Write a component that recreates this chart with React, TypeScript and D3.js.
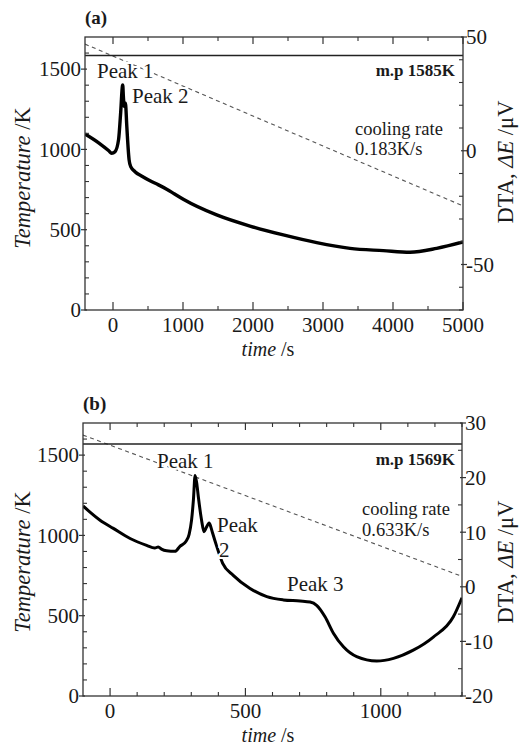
import React from "react";
import * as d3 from "d3";

// ---------- Data ----------
// Panel (a): DTA signal (right axis, µV) vs time (s)
const timeA = [-400, -200, -60, -19, 29, 80, 110, 135, 139, 148, 160, 172, 181, 195, 230, 253, 314, 420, 529, 650, 767, 880, 1004, 1481, 1957, 2433, 2910, 3386, 3861, 4243, 4624, 5000];
const dtaA = [7.4, 3.4, 0.0, -1.1, -0.4, 5.0, 17.0, 28.5, 28.9, 24.0, 19.5, 21.0, 20.1, 12.0, -4.0, -7.0, -9.2, -11.3, -13.2, -15.0, -16.9, -19.0, -21.3, -28.2, -33.1, -37.0, -40.4, -42.9, -43.9, -44.6, -42.9, -40.1];
// Panel (a): cooling line (left axis, K)
const coolTimeA = [-400, 5000];
const coolTempA = [1656, 648];
const meltA = 1585;

// Panel (b)
const timeB = [-100, -37, 12, 74, 135, 165, 178, 190, 209, 240, 258, 280, 292, 301, 308, 314, 320, 326, 338, 347, 355, 366, 372, 379, 394, 416, 455, 517, 579, 640, 702, 739, 763, 794, 825, 862, 911, 985, 1047, 1120, 1194, 1268, 1300];
const dtaB = [14.8, 12.2, 10.7, 8.85, 7.6, 7.1, 7.3, 6.9, 6.6, 6.5, 7.4, 8.3, 9.6, 12.2, 16.0, 20.4, 19.0, 16.5, 12.2, 10.1, 10.8, 11.7, 11.0, 9.8, 7.4, 4.3, 2.1, -0.3, -1.8, -2.4, -2.6, -2.8, -3.4, -5.5, -8.5, -11.0, -12.8, -13.6, -13.1, -11.6, -9.2, -5.5, -2.0];
const coolTimeB = [-100, 1300];
const coolTempB = [1625, 745];
const meltB = 1569;

// Axis domains / ticks
const tempDomain = [0, 1700];
const tempMajor = [0, 500, 1000, 1500];
const tempMinor = [100, 200, 300, 400, 600, 700, 800, 900, 1100, 1200, 1300, 1400, 1600];

const timeDomainA = [-400, 5000];
const timeMajorA = [0, 1000, 2000, 3000, 4000, 5000];
const timeMinorA = [500, 1500, 2500, 3500, 4500];
const dtaDomainA = [-70, 50];
const dtaMajorA = [-50, 0, 50];
const dtaMinorA = [-70, -60, -40, -30, -20, -10, 10, 20, 30, 40];

const timeDomainB = [-100, 1300];
const timeMajorB = [0, 500, 1000];
const timeMinorB = [100, 200, 300, 400, 600, 700, 800, 900, 1100, 1200, 1300];
const dtaDomainB = [-20, 30];
const dtaMajorB = [-20, -10, 0, 10, 20, 30];
const dtaMinorB = [-15, -5, 5, 15, 25];

const FONT = "Liberation Serif, Times New Roman, Times, DejaVu Serif, serif";
const INK = "#1a1a1a";
const FRAME = "#333";

type Ann = { text: string; x: number; y: number; size?: number; bold?: boolean; anchor?: string; halo?: boolean };

type PanelProps = {
  left: number; right: number; top: number; bottom: number;
  timeDomain: number[]; timeMajor: number[]; timeMinor: number[];
  dtaDomain: number[]; dtaMajor: number[]; dtaMinor: number[];
  time: number[]; dta: number[];
  coolTime: number[]; coolTemp: number[];
  melt: number;
  label: string;
  anns: Ann[];
  strokeW: number;
  leftTitleY: number;
  rightTitleY: number;
};

const txt = (size: number, extra: any = {}) => ({ fontFamily: FONT, fontSize: size + "px", fill: INK, ...extra });

function Panel(p: PanelProps) {
  const x = d3.scaleLinear().domain(p.timeDomain).range([p.left, p.right]);
  const yT = d3.scaleLinear().domain(tempDomain).range([p.bottom, p.top]);
  const yD = d3.scaleLinear().domain(p.dtaDomain).range([p.bottom, p.top]);

  const pts = p.time.map((t, i) => [t, p.dta[i]] as [number, number]);
  const line = d3.line<[number, number]>().x(d => x(d[0])).y(d => yD(d[1])).curve(d3.curveMonotoneX);
  const cool = p.coolTime.map((t, i) => [t, p.coolTemp[i]] as [number, number]);
  const coolLine = d3.line<[number, number]>().x(d => x(d[0])).y(d => yT(d[1]));

  const fmt = (v: number) => (v < 0 ? "-" + Math.abs(v) : String(v));

  return (
    <g>
      <defs>
        <clipPath id={"clip" + p.label}>
          <rect x={p.left} y={p.top} width={p.right - p.left} height={p.bottom - p.top} />
        </clipPath>
      </defs>
      <path d={coolLine(cool) || ""} fill="none" stroke="#555" strokeWidth={1.1} strokeDasharray="4,3.5" clipPath={`url(#clip${p.label})`} />
      <line x1={p.left} x2={p.right} y1={yT(p.melt)} y2={yT(p.melt)} stroke="#222" strokeWidth={1.6} />
      <path d={line(pts) || ""} fill="none" stroke="#000" strokeWidth={p.strokeW} strokeLinejoin="round" clipPath={`url(#clip${p.label})`} />

      {p.anns.map((a, i) => (
        <text key={i} x={a.x} y={a.y} textAnchor={a.anchor || "start"}
          style={txt(a.size || 21, { fontWeight: a.bold ? "bold" : "normal", stroke: a.halo ? "#fff" : "none", strokeWidth: a.halo ? 4 : 0, paintOrder: "stroke" })}>
          {a.text}
        </text>
      ))}

      <rect x={p.left} y={p.top} width={p.right - p.left} height={p.bottom - p.top} fill="none" stroke={FRAME} strokeWidth={1.3} />

      {p.timeMajor.map(t => (
        <g key={"tM" + t}>
          <line x1={x(t)} x2={x(t)} y1={p.bottom} y2={p.bottom - 8} stroke={FRAME} strokeWidth={1.2} />
          <line x1={x(t)} x2={x(t)} y1={p.top} y2={p.top + 7} stroke={FRAME} strokeWidth={1.2} />
          <text x={x(t)} y={p.bottom + 22} textAnchor="middle" style={txt(21)}>{fmt(t)}</text>
        </g>
      ))}
      {p.timeMinor.map(t => (
        <g key={"tm" + t}>
          <line x1={x(t)} x2={x(t)} y1={p.bottom} y2={p.bottom - 4} stroke={FRAME} strokeWidth={1.1} />
          <line x1={x(t)} x2={x(t)} y1={p.top} y2={p.top + 4} stroke={FRAME} strokeWidth={1.1} />
        </g>
      ))}
      {tempMajor.map(v => (
        <g key={"TM" + v}>
          <line x1={p.left - 4} x2={p.left + 2} y1={yT(v)} y2={yT(v)} stroke={FRAME} strokeWidth={1.2} />
          <text x={p.left - 4} y={yT(v)} dy="0.35em" textAnchor="end" style={txt(21)}>{fmt(v)}</text>
        </g>
      ))}
      {tempMinor.map(v => (
        <line key={"Tm" + v} x1={p.left} x2={p.left + 4} y1={yT(v)} y2={yT(v)} stroke={FRAME} strokeWidth={1.1} />
      ))}
      {p.dtaMajor.map(v => (
        <g key={"DM" + v}>
          <line x1={p.right - 2} x2={p.right + 4} y1={yD(v)} y2={yD(v)} stroke={FRAME} strokeWidth={1.2} />
          <text x={p.right + 3} y={yD(v)} dy="0.35em" textAnchor="start" style={txt(21)}>{fmt(v)}</text>
        </g>
      ))}
      {p.dtaMinor.map(v => (
        <line key={"Dm" + v} x1={p.right - 4} x2={p.right} y1={yD(v)} y2={yD(v)} stroke={FRAME} strokeWidth={1.1} />
      ))}

      <text x={268} y={p.bottom + 46} textAnchor="middle" style={txt(20)}>
        <tspan style={{ fontStyle: "italic" }}>time</tspan> /s
      </text>
      <text transform={`translate(30,${p.leftTitleY}) rotate(-90)`} textAnchor="middle" style={txt(22.5)}>
        <tspan style={{ fontStyle: "italic" }}>Temperature</tspan> /K
      </text>
      <text transform={`translate(513,${p.rightTitleY}) rotate(-90)`} textAnchor="middle" style={txt(22.5)}>
        DTA, <tspan style={{ fontStyle: "italic" }}>ΔE</tspan> /μV
      </text>
      <text x={p.left} y={p.top - 13} style={txt(19, { fontWeight: "bold" })}>({p.label})</text>
    </g>
  );
}

export default function App() {
  const annsA: Ann[] = [
    { text: "Peak 1", x: 97, y: 78, halo: true },
    { text: "Peak 2", x: 132, y: 103, halo: true },
    { text: "m.p 1585K", x: 455, y: 76, size: 17, bold: true, anchor: "end" },
    { text: "cooling rate", x: 355, y: 135, size: 18.5 },
    { text: "0.183K/s", x: 355, y: 155, size: 18.5 },
  ];
  const annsB: Ann[] = [
    { text: "Peak 1", x: 157, y: 468, halo: true },
    { text: "Peak", x: 217, y: 532 },
    { text: "2", x: 219, y: 557, halo: true },
    { text: "Peak 3", x: 287, y: 591 },
    { text: "m.p 1569K", x: 455, y: 465, size: 17, bold: true, anchor: "end" },
    { text: "cooling rate", x: 362, y: 515, size: 18.5 },
    { text: "0.633K/s", x: 362, y: 536, size: 18.5 },
  ];
  return (
    <svg width={527} height={747} style={{ position: "absolute", left: 0, top: 0, background: "#fff" }}>
      <rect width={527} height={747} fill="#fff" />
      <Panel left={85} right={463} top={37} bottom={310}
        timeDomain={timeDomainA} timeMajor={timeMajorA} timeMinor={timeMinorA}
        dtaDomain={dtaDomainA} dtaMajor={dtaMajorA} dtaMinor={dtaMinorA}
        time={timeA} dta={dtaA} coolTime={coolTimeA} coolTemp={coolTempA} melt={meltA}
        label="a" anns={annsA} strokeW={3.4} leftTitleY={178} rightTitleY={162} />
      <Panel left={83} right={462} top={423} bottom={696}
        timeDomain={timeDomainB} timeMajor={timeMajorB} timeMinor={timeMinorB}
        dtaDomain={dtaDomainB} dtaMajor={dtaMajorB} dtaMinor={dtaMinorB}
        time={timeB} dta={dtaB} coolTime={coolTimeB} coolTemp={coolTempB} melt={meltB}
        label="b" anns={annsB} strokeW={3} leftTitleY={562} rightTitleY={562} />
    </svg>
  );
}
